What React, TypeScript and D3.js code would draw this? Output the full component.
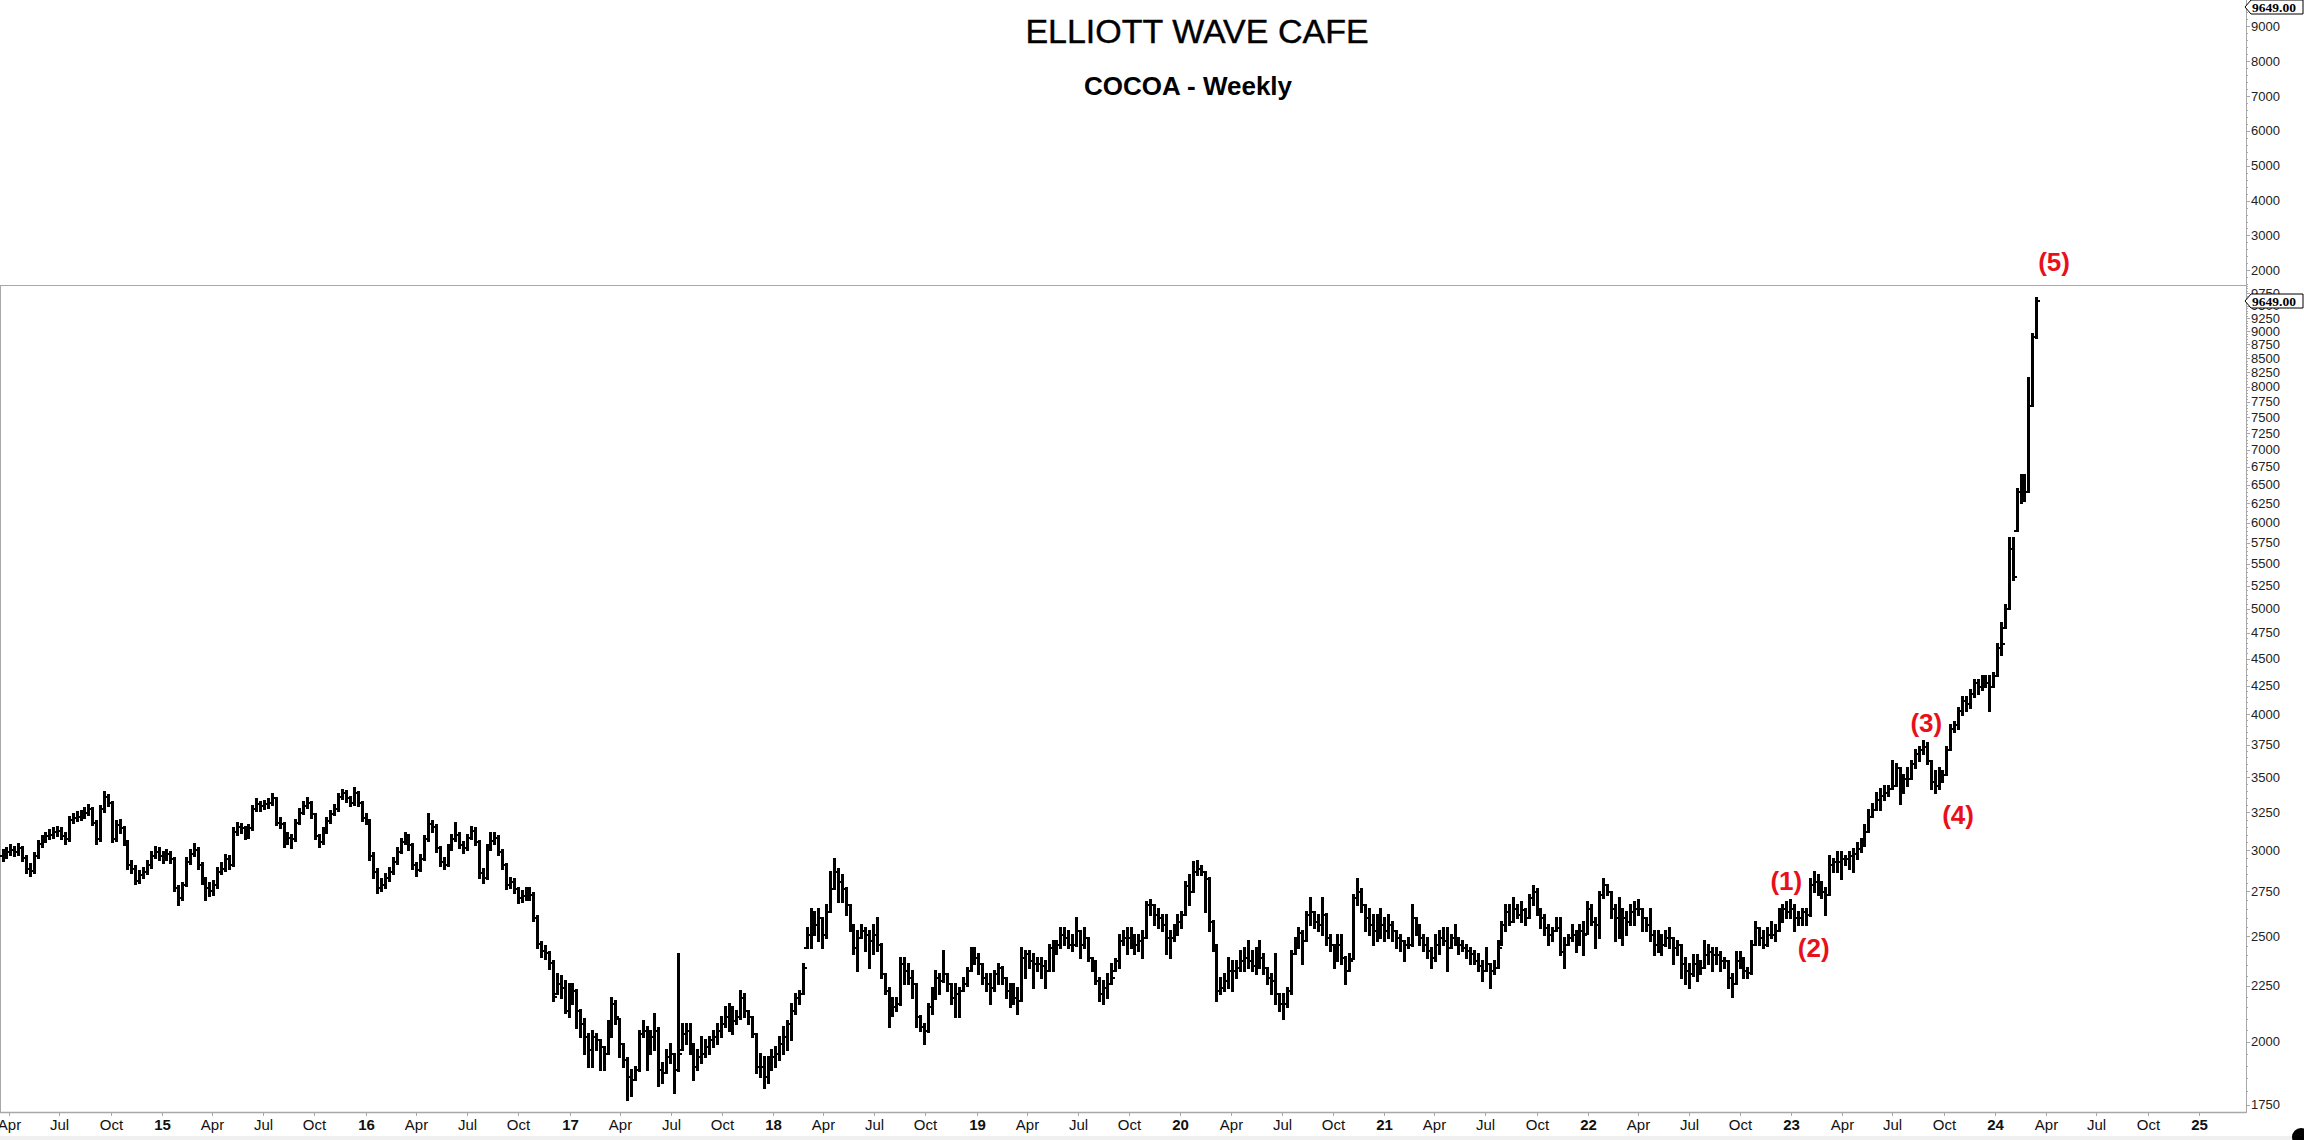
import React from "react";
import * as d3 from "d3";

const W = 2304;
const H = 1140;

// Weekly bars, first bar week ending 2014-03-21
const firstWeek = [2014, 2, 21];

const closes = [
  2965, 2990, 3000, 2990, 3010, 2950, 2885, 2870, 2965, 3040,
  3070, 3090, 3100, 3115, 3125, 3090, 3070, 3200, 3210, 3220,
  3235, 3245, 3270, 3180, 3070, 3270, 3360, 3315, 3070, 3160,
  3140, 3050, 2905, 2885, 2810, 2846, 2865, 2905, 2965, 2990,
  2965, 2955, 2975, 2946, 2770, 2710, 2785, 2925, 2975, 3000,
  2905, 2810, 2770, 2750, 2785, 2865, 2885, 2946, 2905, 3115,
  3150, 3140, 3090, 3140, 3270, 3305, 3290, 3305, 3315, 3350,
  3180, 3170, 3050, 3080, 3070, 3180, 3245, 3290, 3315, 3235,
  3090, 3050, 3115, 3190, 3235, 3270, 3360, 3386, 3350, 3315,
  3386, 3315, 3210, 3200, 2965, 2865, 2770, 2785, 2825, 2865,
  2925, 2990, 3050, 3090, 3030, 2905, 2875, 2946, 3070, 3170,
  3150, 3010, 2925, 2905, 3010, 3070, 3100, 3030, 3010, 3080,
  3125, 3050, 2855, 2825, 3010, 3060, 3080, 2990, 2905, 2785,
  2805, 2760, 2710, 2720, 2750, 2730, 2600, 2460, 2425, 2410,
  2360, 2200, 2260, 2242, 2135, 2210, 2225, 2135, 2076, 2019,
  1964, 2019, 2005, 1978, 1950, 2047, 2165, 2105, 1991, 1923,
  1857, 1844, 1883, 2033, 2047, 1950, 2019, 2047, 1883, 1870,
  1937, 1950, 1883, 1950, 2033, 2047, 1964, 1896, 1937, 1950,
  1978, 2005, 2019, 2047, 2076, 2105, 2120, 2091, 2105, 2195,
  2135, 2105, 2033, 1896, 1896, 1857, 1896, 1937, 1950, 1991,
  2019, 2076, 2135, 2195, 2210, 2339, 2508, 2578, 2560, 2596,
  2508, 2632, 2765, 2863, 2803, 2765, 2670, 2560, 2438, 2490,
  2525, 2508, 2473, 2508, 2455, 2306, 2225, 2120, 2150, 2165,
  2356, 2322, 2290, 2258, 2105, 2062, 2047, 2150, 2195, 2290,
  2274, 2306, 2258, 2195, 2210, 2225, 2258, 2322, 2405, 2388,
  2356, 2290, 2258, 2242, 2306, 2339, 2290, 2225, 2210, 2195,
  2180, 2388, 2405, 2372, 2356, 2356, 2347, 2322, 2438, 2421,
  2455, 2508, 2490, 2455, 2455, 2525, 2455, 2490, 2388, 2339,
  2274, 2210, 2242, 2258, 2290, 2372, 2473, 2490, 2490, 2508,
  2455, 2473, 2490, 2670, 2670, 2614, 2596, 2560, 2490, 2490,
  2525, 2578, 2614, 2783, 2745, 2863, 2883, 2863, 2823, 2578,
  2455, 2225, 2242, 2274, 2322, 2322, 2339, 2372, 2388, 2372,
  2347, 2405, 2388, 2339, 2290, 2274, 2210, 2165, 2165, 2225,
  2405, 2455, 2516, 2473, 2614, 2632, 2578, 2560, 2614, 2490,
  2455, 2405, 2455, 2388, 2322, 2372, 2708, 2745, 2670, 2596,
  2560, 2525, 2543, 2560, 2525, 2560, 2525, 2490, 2473, 2455,
  2455, 2596, 2560, 2490, 2455, 2421, 2388, 2455, 2490, 2473,
  2438, 2490, 2490, 2455, 2438, 2421, 2405, 2372, 2347, 2322,
  2356, 2322, 2339, 2438, 2560, 2632, 2578, 2650, 2614, 2641,
  2596, 2708, 2745, 2650, 2596, 2543, 2508, 2525, 2543, 2420,
  2456, 2490, 2508, 2490, 2525, 2508, 2650, 2578, 2560, 2727,
  2784, 2745, 2650, 2596, 2650, 2596, 2578, 2633, 2650, 2650,
  2596, 2560, 2508, 2456, 2473, 2456, 2490, 2490, 2438, 2456,
  2355, 2322, 2306, 2355, 2322, 2338, 2404, 2420, 2404, 2404,
  2371, 2371, 2290, 2258, 2371, 2388, 2322, 2314, 2456, 2543,
  2490, 2456, 2508, 2508, 2525, 2633, 2650, 2633, 2650, 2596,
  2596, 2633, 2615, 2784, 2803, 2765, 2745, 2727, 2904, 2924,
  2924, 2944, 2944, 2965, 2975, 3006, 3027, 3120, 3215, 3263,
  3337, 3362, 3388, 3413, 3438, 3570, 3464, 3490, 3490, 3596,
  3678, 3706, 3733, 3623, 3464, 3438, 3517, 3517, 3706, 3876,
  3905, 4024, 4115, 4084, 4176, 4271, 4239, 4303, 4271, 4239,
  4335, 4603, 4638, 4998, 5676, 5348, 6398, 6446, 6398, 7683,
  8890, 9600,
];

const highs = [
  3000, 3010, 3030, 3020, 3040, 3020, 2960, 2910, 2980, 3060,
  3090, 3110, 3130, 3140, 3150, 3140, 3110, 3220, 3240, 3250,
  3260, 3280, 3300, 3280, 3190, 3290, 3395, 3370, 3320, 3190,
  3200, 3150, 3060, 2930, 2900, 2870, 2890, 2930, 2990, 3020,
  3010, 2990, 3000, 2990, 2950, 2780, 2800, 2950, 3000, 3040,
  3010, 2920, 2830, 2800, 2810, 2890, 2920, 2970, 2960, 3140,
  3180, 3170, 3150, 3160, 3290, 3340, 3320, 3330, 3340, 3380,
  3350, 3210, 3180, 3110, 3100, 3200, 3270, 3320, 3350, 3320,
  3240, 3100, 3140, 3210, 3260, 3300, 3380, 3410, 3400, 3360,
  3420, 3390, 3320, 3240, 3200, 2980, 2880, 2820, 2850, 2890,
  2950, 3010, 3070, 3110, 3100, 3040, 2920, 2970, 3090, 3240,
  3190, 3160, 3020, 2950, 3030, 3100, 3180, 3110, 3050, 3100,
  3150, 3140, 3060, 2880, 3030, 3110, 3110, 3090, 3000, 2910,
  2830, 2820, 2770, 2750, 2770, 2770, 2740, 2610, 2470, 2450,
  2420, 2370, 2310, 2300, 2275, 2260, 2260, 2230, 2140, 2100,
  2033, 2047, 2033, 2005, 1978, 2091, 2195, 2180, 2100, 1990,
  1930, 1883, 1896, 2047, 2091, 2062, 2047, 2120, 2060, 1910,
  1964, 1991, 1950, 2405, 2076, 2076, 2076, 1991, 1964, 2019,
  2005, 2019, 2047, 2076, 2105, 2150, 2165, 2150, 2135, 2225,
  2210, 2135, 2105, 2033, 1950, 1937, 1937, 1964, 1978, 2019,
  2062, 2091, 2165, 2210, 2225, 2356, 2545, 2650, 2632, 2650,
  2596, 2670, 2863, 2944, 2883, 2843, 2770, 2670, 2560, 2525,
  2560, 2543, 2525, 2560, 2596, 2460, 2310, 2240, 2195, 2195,
  2388, 2388, 2356, 2322, 2260, 2110, 2076, 2165, 2242, 2322,
  2306, 2421, 2306, 2260, 2258, 2242, 2290, 2339, 2438, 2438,
  2405, 2356, 2306, 2306, 2322, 2356, 2340, 2290, 2258, 2258,
  2242, 2438, 2421, 2421, 2405, 2388, 2388, 2372, 2455, 2473,
  2473, 2543, 2543, 2525, 2508, 2596, 2525, 2543, 2490, 2388,
  2372, 2290, 2274, 2306, 2356, 2380, 2508, 2525, 2543, 2543,
  2508, 2508, 2525, 2690, 2700, 2670, 2650, 2614, 2614, 2525,
  2560, 2614, 2632, 2803, 2843, 2925, 2934, 2903, 2863, 2825,
  2580, 2455, 2290, 2306, 2388, 2372, 2372, 2421, 2438, 2473,
  2421, 2438, 2473, 2405, 2339, 2306, 2405, 2210, 2210, 2242,
  2421, 2490, 2543, 2525, 2632, 2708, 2632, 2614, 2708, 2620,
  2508, 2455, 2508, 2508, 2390, 2405, 2727, 2823, 2765, 2670,
  2650, 2614, 2614, 2650, 2596, 2614, 2578, 2525, 2508, 2473,
  2490, 2670, 2600, 2560, 2508, 2490, 2438, 2508, 2525, 2543,
  2543, 2508, 2560, 2490, 2473, 2455, 2438, 2421, 2405, 2372,
  2438, 2356, 2372, 2473, 2578, 2670, 2670, 2708, 2670, 2690,
  2650, 2727, 2783, 2765, 2650, 2614, 2560, 2543, 2596, 2596,
  2490, 2508, 2560, 2525, 2560, 2578, 2690, 2670, 2596, 2745,
  2823, 2784, 2745, 2670, 2708, 2650, 2633, 2670, 2690, 2698,
  2650, 2596, 2650, 2525, 2525, 2508, 2525, 2543, 2490, 2473,
  2456, 2388, 2355, 2404, 2404, 2371, 2473, 2456, 2438, 2438,
  2420, 2388, 2371, 2306, 2420, 2420, 2388, 2338, 2473, 2578,
  2543, 2525, 2543, 2578, 2560, 2650, 2670, 2690, 2698, 2670,
  2633, 2650, 2650, 2823, 2863, 2843, 2803, 2770, 2965, 2944,
  2985, 2985, 2965, 2985, 3006, 3048, 3070, 3165, 3263, 3310,
  3388, 3413, 3438, 3438, 3623, 3596, 3570, 3517, 3570, 3623,
  3706, 3733, 3776, 3760, 3623, 3543, 3570, 3543, 3733, 3905,
  3935, 4054, 4145, 4145, 4207, 4303, 4303, 4335, 4335, 4335,
  4367, 4638, 4850, 5036, 5805, 5805, 6446, 6641, 6641, 8157,
  8950, 9649,
];

const lows = [
  2930, 2950, 2970, 2960, 2970, 2930, 2860, 2840, 2860, 2950,
  3020, 3050, 3070, 3080, 3090, 3070, 3040, 3060, 3180, 3190,
  3200, 3210, 3230, 3160, 3040, 3060, 3250, 3290, 3050, 3060,
  3110, 3030, 2880, 2860, 2790, 2800, 2830, 2850, 2890, 2950,
  2940, 2920, 2940, 2920, 2750, 2670, 2700, 2780, 2910, 2960,
  2880, 2790, 2700, 2720, 2730, 2770, 2850, 2870, 2880, 2900,
  3100, 3110, 3070, 3080, 3130, 3260, 3260, 3270, 3280, 3300,
  3160, 3140, 3020, 3040, 3010, 3060, 3170, 3240, 3280, 3210,
  3070, 3020, 3040, 3110, 3180, 3230, 3260, 3340, 3320, 3290,
  3300, 3290, 3190, 3170, 2940, 2830, 2740, 2750, 2770, 2810,
  2850, 2910, 2980, 3040, 3000, 2880, 2840, 2870, 2940, 3060,
  3120, 2990, 2900, 2880, 2900, 3000, 3060, 3010, 2980, 3000,
  3070, 3030, 2830, 2800, 2820, 3000, 3040, 2970, 2880, 2760,
  2770, 2740, 2680, 2690, 2700, 2700, 2580, 2440, 2390, 2380,
  2330, 2180, 2210, 2195, 2125, 2105, 2165, 2060, 2019, 1950,
  1896, 1896, 1964, 1883, 1883, 1950, 2019, 2076, 1937, 1896,
  1769, 1782, 1844, 1880, 2019, 1883, 1950, 1964, 1819, 1832,
  1870, 1910, 1794, 1880, 1964, 1991, 1950, 1844, 1883, 1910,
  1937, 1950, 1978, 1991, 2019, 2062, 2047, 2033, 2076, 2100,
  2105, 2076, 2019, 1870, 1857, 1813, 1832, 1883, 1896, 1923,
  1950, 1964, 2005, 2120, 2165, 2210, 2438, 2438, 2508, 2473,
  2438, 2490, 2630, 2765, 2690, 2690, 2614, 2525, 2405, 2322,
  2490, 2421, 2339, 2405, 2421, 2290, 2210, 2062, 2110, 2135,
  2160, 2258, 2258, 2195, 2062, 2047, 1991, 2040, 2120, 2190,
  2210, 2270, 2225, 2165, 2105, 2105, 2225, 2250, 2322, 2356,
  2306, 2258, 2225, 2165, 2225, 2258, 2258, 2195, 2150, 2165,
  2120, 2180, 2290, 2339, 2242, 2322, 2290, 2242, 2322, 2322,
  2405, 2438, 2455, 2438, 2421, 2450, 2388, 2438, 2372, 2322,
  2258, 2180, 2165, 2195, 2258, 2322, 2339, 2455, 2405, 2438,
  2405, 2421, 2388, 2490, 2614, 2560, 2543, 2525, 2405, 2388,
  2473, 2508, 2543, 2614, 2670, 2745, 2843, 2843, 2632, 2525,
  2421, 2180, 2210, 2225, 2242, 2225, 2290, 2322, 2322, 2339,
  2322, 2306, 2339, 2306, 2258, 2210, 2165, 2135, 2098, 2150,
  2210, 2405, 2438, 2356, 2473, 2560, 2543, 2525, 2508, 2455,
  2421, 2339, 2372, 2356, 2258, 2322, 2380, 2670, 2632, 2525,
  2508, 2455, 2473, 2490, 2473, 2490, 2473, 2438, 2421, 2372,
  2438, 2450, 2508, 2455, 2421, 2388, 2339, 2372, 2405, 2455,
  2322, 2438, 2455, 2405, 2421, 2388, 2356, 2356, 2322, 2274,
  2322, 2242, 2306, 2339, 2455, 2525, 2560, 2578, 2596, 2578,
  2560, 2600, 2670, 2614, 2543, 2508, 2455, 2473, 2525, 2404,
  2338, 2456, 2473, 2420, 2456, 2404, 2510, 2560, 2438, 2490,
  2708, 2727, 2596, 2473, 2490, 2456, 2508, 2560, 2560, 2615,
  2525, 2525, 2473, 2404, 2420, 2404, 2450, 2438, 2355, 2404,
  2290, 2258, 2242, 2300, 2274, 2306, 2338, 2355, 2322, 2355,
  2322, 2338, 2242, 2196, 2258, 2338, 2290, 2290, 2310, 2456,
  2456, 2438, 2450, 2490, 2473, 2525, 2578, 2596, 2596, 2525,
  2560, 2560, 2560, 2610, 2745, 2727, 2708, 2615, 2727, 2863,
  2863, 2823, 2904, 2884, 2863, 2944, 2985, 3027, 3120, 3215,
  3263, 3263, 3337, 3362, 3413, 3438, 3310, 3388, 3438, 3490,
  3570, 3623, 3678, 3596, 3413, 3388, 3413, 3464, 3517, 3706,
  3850, 3876, 3994, 4024, 4054, 4145, 4176, 4207, 4239, 4024,
  4239, 4335, 4535, 4800, 4998, 5308, 5893, 6256, 6280, 6398,
  7683, 8860,
];

// Right axis ticks
const mainTicks = [
  1750, 2000, 2250, 2500, 2750, 3000, 3250, 3500, 3750, 4000, 4250, 4500,
  4750, 5000, 5250, 5500, 5750, 6000, 6250, 6500, 6750, 7000, 7250, 7500,
  7750, 8000, 8250, 8500, 8750, 9000, 9250, 9500, 9750,
];
const topTicks = [2000, 3000, 4000, 5000, 6000, 7000, 8000, 9000];
const lastValue = 9649;
const lastLabel = "9649.00";

// Elliott wave annotations
const waveLabels = ["(1)", "(2)", "(3)", "(4)", "(5)"];
const waveDates = ["2022-12-23", "2023-02-10", "2023-08-31", "2023-10-27", "2024-04-16"];
const wavePrices = [2810, 2437, 3926, 3231, 10417];

const monthNames: Record<number, string> = { 3: "Apr", 6: "Jul", 9: "Oct" };

const titleText = "ELLIOTT WAVE CAFE";
const subtitleText = "COCOA - Weekly";

function parseDate(s: string) {
  const [y, m, d] = s.split("-").map(Number);
  return new Date(y, m - 1, d);
}

export default function App() {
  const plotLeft = 0;
  const plotRight = 2246;
  const panelSplit = 285;
  const plotBottom = 1112;

  const x = d3
    .scaleTime()
    .domain([new Date(2015, 0, 1), new Date(2025, 0, 1)])
    .range([162, 2199]);
  const y = d3.scaleLog().domain([1723, 9922]).range([plotBottom, panelSplit]);
  const yTop = d3.scaleLinear().domain([1578, 9758]).range([panelSplit, 0]);

  const n = Math.min(closes.length, highs.length, lows.length);
  let stemPath = "";
  let tickPath = "";
  for (let i = 0; i < n; i++) {
    const d = new Date(firstWeek[0], firstWeek[1], firstWeek[2] + 7 * i);
    const c = closes[i];
    const h = Math.max(highs[i], c);
    const l = Math.min(lows[i], c);
    const o = i === 0 ? c : Math.min(h, Math.max(l, closes[i - 1]));
    const xi = Math.round(x(d));
    const yh = Math.round(y(h));
    let yl = Math.round(y(l));
    if (yl - yh < 2) yl = yh + 2;
    const yo = Math.round(y(o));
    const yc = Math.round(y(c));
    stemPath += `M${xi + 0.5},${yh - 1}V${yl + 1}`;
    tickPath += `M${xi - 3},${yo}H${xi}M${xi + 1},${yc}H${xi + 4}`;
  }

  const monthTicks = d3.timeMonth
    .every(3)!
    .range(new Date(2014, 3, 1), new Date(2025, 0, 2));

  const minorMain: number[] = [];
  for (let v = 1750; v <= 9900; v += 50) minorMain.push(v);
  const minorTop: number[] = [];
  for (let v = 1600; v <= 9700; v += 200) minorTop.push(v);

  const axisColor = "#a8a8a8";
  const font = "'Liberation Sans', Arial, sans-serif";

  const marker = (yc: number, key: string) => (
    <g key={key}>
      <path
        d={`M${plotRight - 1},${yc}L${plotRight + 5},${yc - 7}H${W - 1}V${yc + 7}H${plotRight + 5}Z`}
        fill="#fff"
        stroke="#000"
        strokeWidth={1}
      />
      <text
        x={plotRight + 6}
        y={yc}
        dominantBaseline="central"
        fontFamily="'Liberation Serif', 'Times New Roman', serif"
        fontWeight="bold"
        fontSize={13.5}
        fill="#000"
      >
        {lastLabel}
      </text>
    </g>
  );

  return (
    <svg
      width={W}
      height={H}
      viewBox={`0 0 ${W} ${H}`}
      style={{ position: "absolute", left: 0, top: 0, display: "block", background: "#fff" }}
    >
      <defs>
        <clipPath id="mainAxisClip">
          <rect x={plotRight} y={panelSplit + 1} width={W - plotRight} height={plotBottom - panelSplit + 20} />
        </clipPath>
        <clipPath id="topAxisClip">
          <rect x={plotRight} y={0} width={W - plotRight} height={panelSplit} />
        </clipPath>
      </defs>
      <rect x={0} y={0} width={W} height={H} fill="#fff" />

      {/* Titles */}
      <text x={1197} y={43} textAnchor="middle" fontFamily={font} fontSize={34} fill="#000" stroke="#000" strokeWidth={0.4}>
        {titleText}
      </text>
      <text x={1188} y={95} textAnchor="middle" fontFamily={font} fontWeight="bold" fontSize={26} fill="#000">
        {subtitleText}
      </text>

      {/* Panel frames */}
      <line x1={plotLeft} x2={plotRight} y1={panelSplit + 0.5} y2={panelSplit + 0.5} stroke={axisColor} strokeWidth={1} />
      <line x1={plotLeft} x2={plotRight} y1={plotBottom + 0.5} y2={plotBottom + 0.5} stroke={axisColor} strokeWidth={1.5} />
      <line x1={plotLeft + 0.5} x2={plotLeft + 0.5} y1={panelSplit} y2={plotBottom} stroke={axisColor} strokeWidth={1} />
      <line x1={plotRight + 0.5} x2={plotRight + 0.5} y1={0} y2={plotBottom + 1} stroke={axisColor} strokeWidth={1} />
      <rect x={0} y={1136} width={W} height={4} fill="#f0f0f0" />

      {/* Top panel axis */}
      <g clipPath="url(#topAxisClip)">
        {minorTop.map((v) => (
          <line key={"mt" + v} x1={plotRight} x2={plotRight + 2} y1={Math.round(yTop(v)) + 0.5} y2={Math.round(yTop(v)) + 0.5} stroke={axisColor} />
        ))}
        {topTicks.map((v) => (
          <g key={"tt" + v}>
            <line x1={plotRight} x2={plotRight + 4} y1={Math.round(yTop(v)) + 0.5} y2={Math.round(yTop(v)) + 0.5} stroke={axisColor} />
            <text x={plotRight + 5} y={yTop(v)} dominantBaseline="central" fontFamily={font} fontSize={13} fill="#222">
              {v}
            </text>
          </g>
        ))}
      </g>

      {/* Main panel axis */}
      <g clipPath="url(#mainAxisClip)">
        {minorMain.map((v) => (
          <line key={"mm" + v} x1={plotRight} x2={plotRight + 2} y1={Math.round(y(v)) + 0.5} y2={Math.round(y(v)) + 0.5} stroke={axisColor} />
        ))}
        {mainTicks.map((v) => (
          <g key={"m" + v}>
            <line x1={plotRight} x2={plotRight + 4} y1={Math.round(y(v)) + 0.5} y2={Math.round(y(v)) + 0.5} stroke={axisColor} />
            <text x={plotRight + 5} y={y(v)} dominantBaseline="central" fontFamily={font} fontSize={13} fill="#222">
              {v}
            </text>
          </g>
        ))}
      </g>

      {/* Last value markers */}
      {marker(Math.round(yTop(lastValue)) + 3, "mk1")}
      {marker(Math.round(y(lastValue)) + 3, "mk2")}

      {/* Bottom time axis */}
      {monthTicks.map((d) => {
        const xx = Math.round(x(d)) + 0.5;
        const m = d.getMonth();
        const isYear = m === 0;
        const label = isYear ? d3.timeFormat("%y")(d) : monthNames[m];
        return (
          <g key={d.toISOString()}>
            <line x1={xx} x2={xx} y1={plotBottom} y2={plotBottom + 4} stroke={axisColor} />
            <text
              x={xx}
              y={1130}
              textAnchor="middle"
              fontFamily={font}
              fontWeight={isYear ? "bold" : "normal"}
              fontSize={15}
              fill="#111"
            >
              {label}
            </text>
          </g>
        );
      })}

      {/* Price bars */}
      <path d={stemPath} fill="none" stroke="#000" strokeWidth={3} shapeRendering="crispEdges" />
      <path d={tickPath} fill="none" stroke="#000" strokeWidth={2} shapeRendering="crispEdges" />

      {/* Wave labels */}
      {waveLabels.map((lab, i) => (
        <text
          key={lab}
          x={x(parseDate(waveDates[i]))}
          y={y(wavePrices[i])}
          textAnchor="middle"
          dominantBaseline="central"
          fontFamily={font}
          fontWeight="bold"
          fontSize={26}
          fill="#e8101a"
        >
          {lab}
        </text>
      ))}

      {/* corner dot */}
      <circle cx={2301} cy={1137} r={9} fill="#000" />
    </svg>
  );
}
